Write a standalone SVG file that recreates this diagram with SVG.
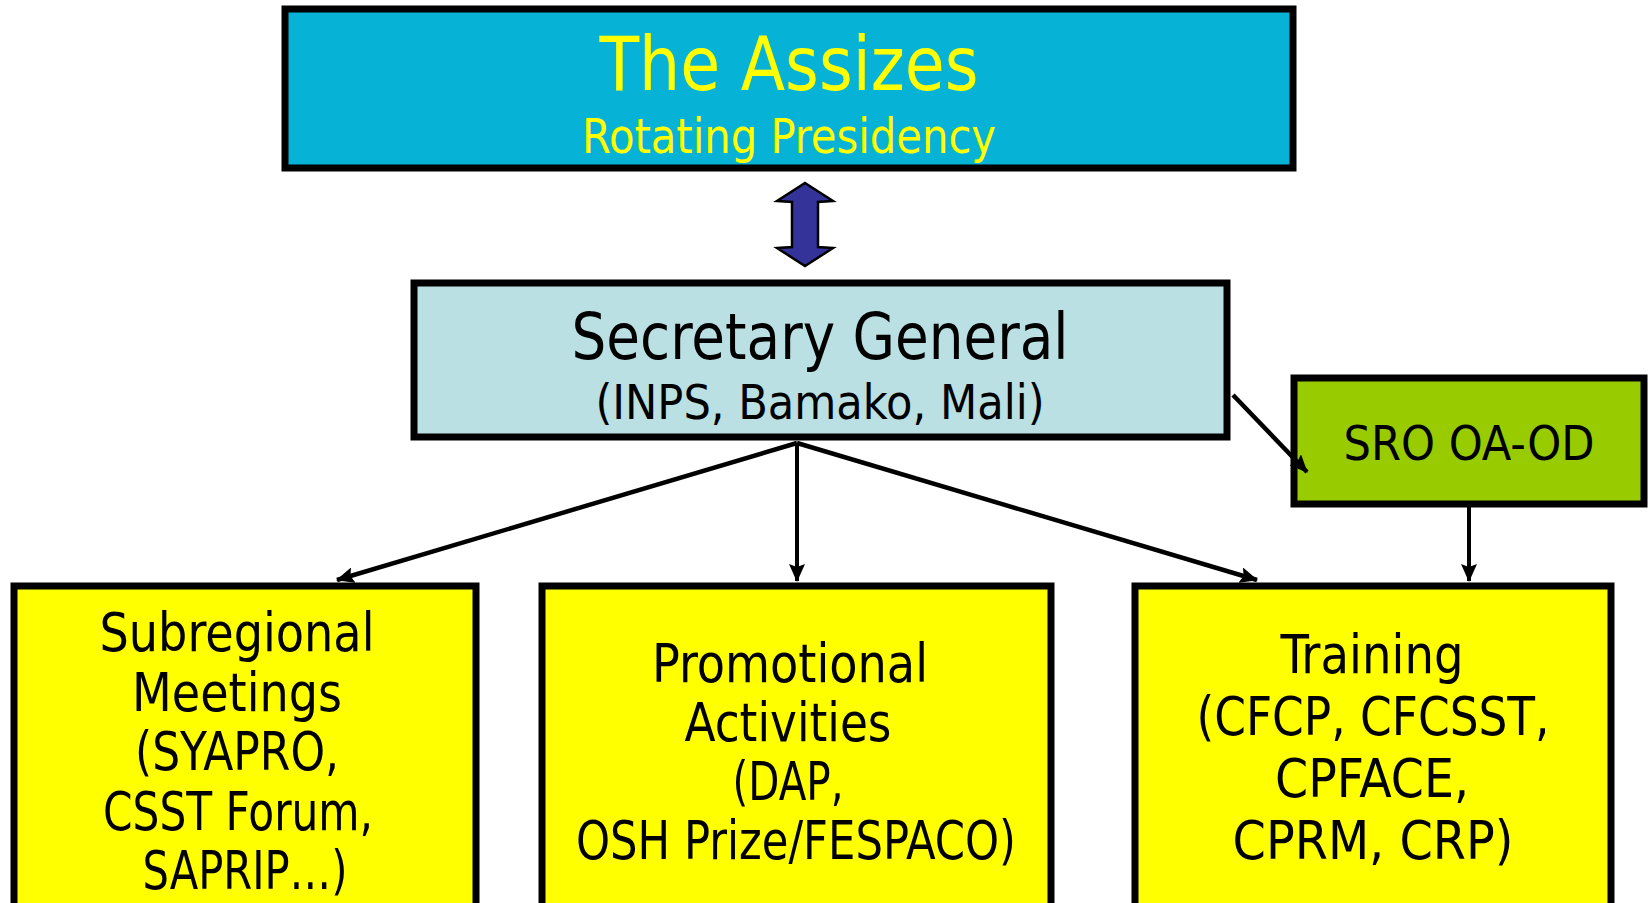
<svg xmlns="http://www.w3.org/2000/svg" width="1652" height="903" viewBox="0 0 1652 903">
<defs>
<style>
.box{stroke:#000;stroke-width:7}
.t{font-family:"DejaVu Sans Condensed","DejaVu Sans",sans-serif;font-stretch:condensed;text-anchor:middle;fill:#000}
.y{fill:#FFFF00}
.c{stroke:#000;stroke-width:4.5;fill:none}
</style>
<marker id="ah2" markerWidth="18" markerHeight="16" refX="17" refY="8" orient="auto" markerUnits="userSpaceOnUse" viewBox="0 0 18 16">
<path d="M0,0 L18,8 L0,16 L3,8 z" fill="#000"/>
</marker>
</defs>
<rect width="1652" height="903" fill="#fff"/>
<g id="assizes">
<rect class="box" x="285" y="9" width="1008" height="159" fill="#06B2D6"/>
<text class="t y" x="789" y="90" font-size="74" textLength="379" lengthAdjust="spacingAndGlyphs">The Assizes</text>
<text class="t y" x="789" y="153" font-size="48" textLength="414" lengthAdjust="spacingAndGlyphs">Rotating Presidency</text>
</g>
<g id="secretary">
<rect class="box" x="414" y="283" width="813" height="154" fill="#BBE0E3"/>
<text class="t" x="820" y="359" font-size="64" textLength="497" lengthAdjust="spacingAndGlyphs">Secretary General</text>
<text class="t" x="820" y="419" font-size="48" textLength="449" lengthAdjust="spacingAndGlyphs">(INPS, Bamako, Mali)</text>
</g>
<g id="sro">
<rect class="box" x="1294" y="378" width="350" height="126" fill="#99CC00"/>
<text class="t" x="1469" y="460" font-size="48">SRO OA-OD</text>
</g>
<g id="subregional">
<rect class="box" x="14" y="586" width="462" height="330" fill="#FFFF00"/>
<text class="t" font-size="53"><tspan x="237" y="651" textLength="275" lengthAdjust="spacingAndGlyphs">Subregional</tspan><tspan x="237" y="711" textLength="210" lengthAdjust="spacingAndGlyphs">Meetings</tspan><tspan x="237" y="770" textLength="204" lengthAdjust="spacingAndGlyphs">(SYAPRO,</tspan><tspan x="238" y="830" textLength="270" lengthAdjust="spacingAndGlyphs">CSST Forum,</tspan><tspan x="245" y="889" textLength="205" lengthAdjust="spacingAndGlyphs">SAPRIP…)</tspan></text>
</g>
<g id="promotional">
<rect class="box" x="542" y="586" width="509" height="330" fill="#FFFF00"/>
<text class="t" font-size="53"><tspan x="790" y="682" textLength="276" lengthAdjust="spacingAndGlyphs">Promotional</tspan><tspan x="788" y="741" textLength="207" lengthAdjust="spacingAndGlyphs">Activities</tspan><tspan x="788" y="800" textLength="111" lengthAdjust="spacingAndGlyphs">(DAP,</tspan><tspan x="796" y="859" textLength="440" lengthAdjust="spacingAndGlyphs">OSH Prize/FESPACO)</tspan></text>
</g>
<g id="training">
<rect class="box" x="1135" y="586" width="476" height="330" fill="#FFFF00"/>
<text class="t" font-size="53"><tspan x="1372" y="673" textLength="183" lengthAdjust="spacingAndGlyphs">Training</tspan><tspan x="1373" y="735" textLength="353" lengthAdjust="spacingAndGlyphs">(CFCP, CFCSST,</tspan><tspan x="1372" y="797" textLength="194" lengthAdjust="spacingAndGlyphs">CPFACE,</tspan><tspan x="1373" y="859" textLength="281" lengthAdjust="spacingAndGlyphs">CPRM, CRP)</tspan></text>
</g>
<g id="connectors">
<path class="c" d="M797,443 L337,580" marker-end="url(#ah2)"/>
<path class="c" d="M797,443 L797,581" style="stroke-width:4" marker-end="url(#ah2)"/>
<path class="c" d="M797,443 L1257,580" marker-end="url(#ah2)"/>
<path class="c" d="M1233,395 L1307,472" marker-end="url(#ah2)"/>
<path class="c" d="M1469,507 L1469,581" style="stroke-width:4" marker-end="url(#ah2)"/>
<path d="M805,183 L833,201 L818,202 L818,247 L833,248 L805,266 L777,248 L792,247 L792,202 L777,201 Z" fill="#333399" stroke="#000" stroke-width="2.5" stroke-linejoin="miter"/>
</g>
</svg>
